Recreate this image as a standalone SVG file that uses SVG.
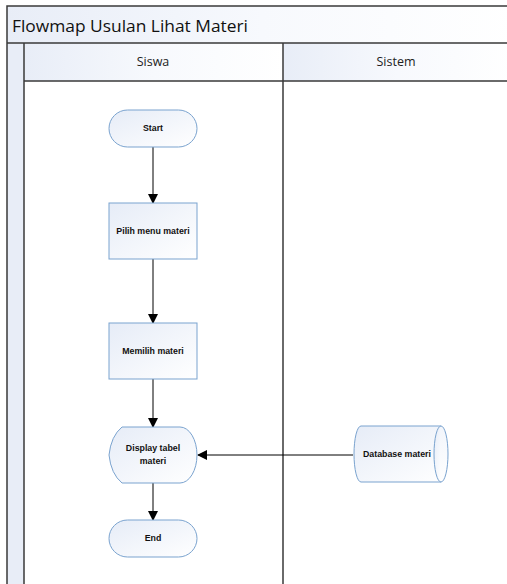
<svg xmlns="http://www.w3.org/2000/svg" width="507" height="584" viewBox="0 0 507 584">
<defs>
<linearGradient id="g" x1="0" y1="0" x2="1" y2="1">
<stop offset="0" stop-color="#e6ecf7"/>
<stop offset="1" stop-color="#ffffff"/>
</linearGradient>
<linearGradient id="hg" x1="0" y1="0" x2="1" y2="0">
<stop offset="0" stop-color="#e8edf7"/>
<stop offset="0.5" stop-color="#f7f9fd"/>
<stop offset="1" stop-color="#ffffff"/>
</linearGradient>
<marker id="ah" markerWidth="10" markerHeight="10" refX="9" refY="5" orient="auto" markerUnits="userSpaceOnUse">
<path d="M0,0 L10,5 L0,10 Z" fill="#000"/>
</marker>
<style>
.frame{fill:none;stroke:#3a3a3a;stroke-width:1.5}
.node{fill:url(#g);stroke:#7aa3cf;stroke-width:1}
.lbl{font-family:"Liberation Sans",Arial,sans-serif;font-size:8.8px;font-weight:bold;fill:#111;text-anchor:middle}
.hdr{font-family:"Open Sans","Liberation Sans",sans-serif;font-size:12.5px;fill:#222;text-anchor:middle}
.conn{stroke:#000;stroke-width:1;fill:none;marker-end:url(#ah)}
</style>
</defs>
<rect x="0" y="0" width="507" height="584" fill="#fff"/>
<g id="pool">
<rect x="7" y="6" width="510" height="37" fill="url(#hg)"/>
<rect x="7" y="43" width="17" height="545" fill="#e8edf7"/>
<rect x="24" y="43" width="259" height="38" fill="url(#hg)"/>
<rect x="283" y="43" width="230" height="38" fill="url(#hg)"/>
<path class="frame" d="M7,590 V6 H510 M7,43 H510 M24,590 V43 M24,81 H510 M283,43 V590"/>
<text x="12" y="32" font-family="Open Sans, Liberation Sans, sans-serif" font-size="17" fill="#111" textLength="236" lengthAdjust="spacingAndGlyphs">Flowmap Usulan Lihat Materi</text>
<text class="hdr" x="153" y="66">Siswa</text>
<text class="hdr" x="396" y="66">Sistem</text>
</g>
<g id="connectors">
<line class="conn" x1="153" y1="147" x2="153" y2="203"/>
<line class="conn" x1="153" y1="259" x2="153" y2="323"/>
<line class="conn" x1="153" y1="379" x2="153" y2="427"/>
<line class="conn" x1="153" y1="483" x2="153" y2="520"/>
<line class="conn" x1="353" y1="455" x2="198" y2="455"/>
</g>
<g id="start">
<rect class="node" x="109" y="110" width="88" height="37" rx="18.5"/>
<text class="lbl" x="153" y="131">Start</text>
</g>
<g id="pilih">
<rect class="node" x="109" y="203" width="88" height="56"/>
<text class="lbl" x="153" y="234">Pilih menu materi</text>
</g>
<g id="memilih">
<rect class="node" x="109" y="323" width="88" height="56"/>
<text class="lbl" x="153" y="354">Memilih materi</text>
</g>
<g id="display">
<path class="node" d="M122,427 H180 A17,28 0 0 1 180,483 H122 Q111,474 109,455 Q111,436 122,427 Z"/>
<text class="lbl" x="153" y="451">Display tabel</text>
<text class="lbl" x="153" y="464">materi</text>
</g>
<g id="end">
<rect class="node" x="109" y="520" width="88" height="37" rx="18.5"/>
<text class="lbl" x="153" y="541">End</text>
</g>
<g id="database">
<path class="node" d="M361,426 H441 A7,28 0 0 1 441,482 H361 A7,28 0 0 1 361,426 Z"/>
<path class="node" d="M441,426 A7,28 0 0 0 441,482"/>
<text class="lbl" x="397" y="457">Database materi</text>
</g>
</svg>
